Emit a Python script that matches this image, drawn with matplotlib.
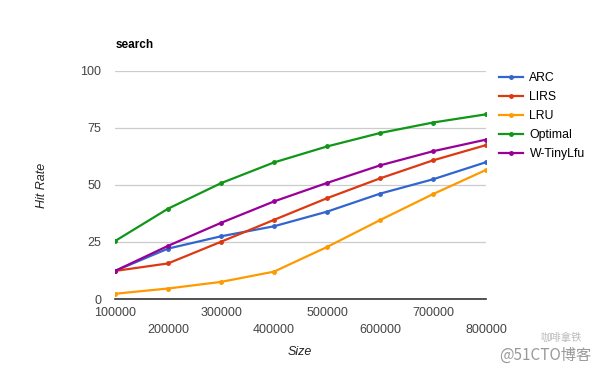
import matplotlib
matplotlib.use("Agg")
import matplotlib.pyplot as plt

sizes = [100000, 200000, 300000, 400000, 500000, 600000, 700000, 800000]
arc = [12.3, 22.1, 27.5, 31.9, 38.3, 46.2, 52.5, 60.0]
lirs = [12.3, 15.6, 25.1, 34.7, 44.2, 52.9, 60.8, 67.5]
lru = [2.3, 4.6, 7.5, 12.0, 22.8, 34.6, 46.0, 56.6]
optimal = [25.4, 39.6, 50.8, 59.9, 66.9, 72.8, 77.4, 81.0]
tinylfu = [12.3, 23.3, 33.4, 42.8, 50.9, 58.6, 64.8, 69.9]
y_ticks = [0, 25, 50, 75, 100]

series = [
    ("ARC", arc, "#3366cc"),
    ("LIRS", lirs, "#dc3912"),
    ("LRU", lru, "#ff9900"),
    ("Optimal", optimal, "#109618"),
    ("W-TinyLfu", tinylfu, "#990099"),
]

plt.rcParams['font.family'] = ['Liberation Sans', 'DejaVu Sans']

fig = plt.figure(figsize=(6, 3.71), dpi=100)
ax = fig.add_axes([115 / 600, 1 - 299 / 371, 371 / 600, 228 / 371])

for name, vals, col in series:
    ax.plot(sizes, vals, color=col, lw=1.6, marker='o', ms=2.5, label=name)

ax.set_xlim(sizes[0], sizes[-1])
ax.set_ylim(0, 100)
ax.set_yticks(y_ticks)
ax.set_yticklabels([str(v) for v in y_ticks])
for v in y_ticks[1:]:
    ax.axhline(v, color='#cccccc', lw=0.9, zorder=0)

ax.set_xticks(sizes)
ax.set_xticklabels([str(s) for s in sizes])
for i, lab in enumerate(ax.get_xticklabels()):
    if i % 2 == 1:
        lab.set_y(-0.072)

for s in ['top', 'right', 'left']:
    ax.spines[s].set_visible(False)
ax.spines['bottom'].set_color('#333333')
ax.spines['bottom'].set_linewidth(1.2)
ax.tick_params(length=0, labelsize=9, labelcolor='#444444', pad=6)
ax.tick_params(axis='y', pad=10)

fig.text(116 / 600, 1 - 45 / 371, "search", fontsize=8.5, fontweight='bold', va='center')
fig.text(42 / 600, 1 - 185 / 371, "Hit Rate", fontsize=9, style='italic',
         rotation=90, va='center', ha='center', color='#222222')
fig.text(300 / 600, 1 - 352 / 371, "Size", fontsize=9, style='italic',
         va='center', ha='center', color='#222222')

leg = ax.legend(loc='upper left', bbox_to_anchor=(494 / 600, 1 - 67 / 371),
                bbox_transform=fig.transFigure, frameon=False, fontsize=8.8,
                handlelength=2.0, handletextpad=0.5, labelspacing=0.58,
                borderaxespad=0)

# watermark
fig.text(582 / 600, 1 - 338 / 371, "咖啡拿铁", fontsize=7.5, color='#bbbbbb',
         ha='right', va='center', family=['Noto Sans CJK SC', 'DejaVu Sans'])
fig.text(591 / 600, 1 - 355 / 371, "@51CTO博客", fontsize=11, color='#999999',
         ha='right', va='center', family=['Noto Sans CJK SC', 'DejaVu Sans'])

fig.savefig("out.png", dpi=100)
